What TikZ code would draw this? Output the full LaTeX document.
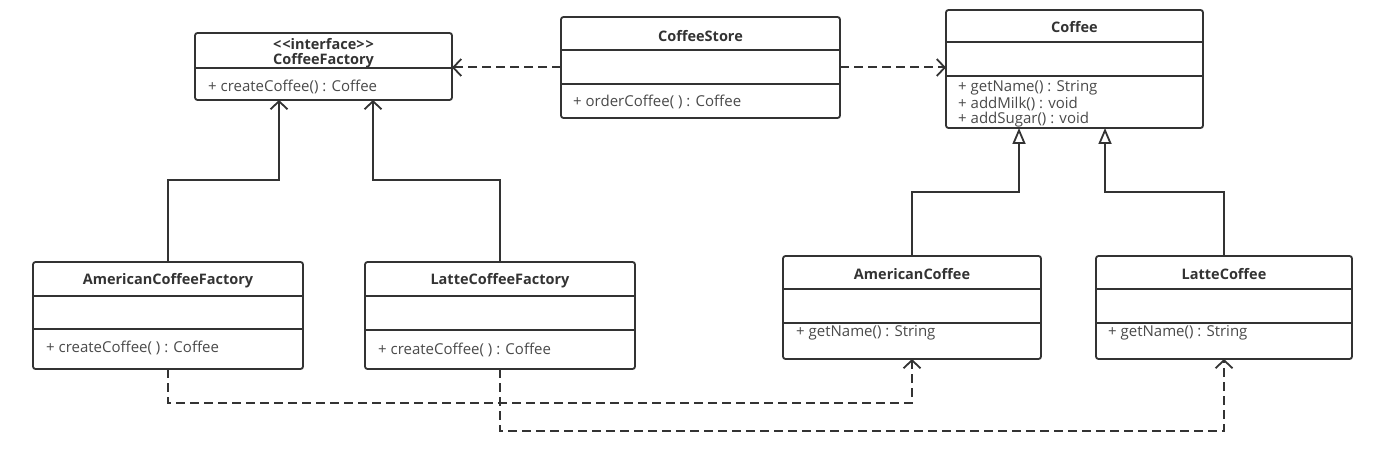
\documentclass[tikz,border=0pt]{standalone}
\usepackage{fontspec}
\setmainfont{Open Sans}
\usetikzlibrary{arrows.meta,calc}
\definecolor{ln}{HTML}{333333}
\definecolor{tx}{HTML}{4A4A4A}
\tikzset{
 cls/.style={draw=ln, line width=1.8pt, rounded corners=2.5pt, inner sep=0pt, outer sep=0pt, fill=white},
 ttl/.style={font=\bfseries\fontsize{14.5}{16}\selectfont, text=ln, inner sep=0pt},
 mth/.style={font=\fontsize{15}{16}\selectfont, text=tx, inner sep=0pt, anchor=west},
 dv/.style={draw=ln, line width=1.8pt},
 gen/.style={draw=ln, line width=1.8pt, -{Triangle[open, length=16pt, width=13pt, line width=1.8pt]}},
 assoc/.style={draw=ln, line width=1.8pt, -{Straight Barb[length=8pt, width=17pt, line width=1.8pt]}},
 dep/.style={assoc, line width=2pt, dash pattern=on 9pt off 5pt},
}
\begin{document}
\begin{tikzpicture}[x=1pt,y=-1pt]
\useasboundingbox (0,0) rectangle (1399,454);
% CoffeeFactory
\node[cls, minimum width=257pt, minimum height=67pt] (cf) at (323.5,66.5) {};
\draw[dv] (cf.west |- 0,68) -- (cf.east |- 0,68);
\node[ttl] (cft1) at (323.5,44) {{<}\kern1pt{<}interface{>}\kern1pt{>}};
\node[ttl] (cft2) at (323.5,61) {CoffeeFactory};
\node[mth] (cfm) at (208,87) {+ createCoffee() : Coffee};
% CoffeeStore
\node[cls, minimum width=279pt, minimum height=101pt] (cs) at (700.5,67.5) {};
\draw[dv] (cs.west |- 0,50) -- (cs.east |- 0,50);
\draw[dv] (cs.west |- 0,84) -- (cs.east |- 0,84);
\node[ttl] (cst) at (700.5,36) {CoffeeStore};
\node[mth] (csm) at (573,102) {+ orderCoffee( ) : Coffee};
% Coffee
\node[cls, minimum width=257pt, minimum height=118pt] (co) at (1074.5,69) {};
\draw[dv] (co.west |- 0,42) -- (co.east |- 0,42);
\draw[dv] (co.west |- 0,76) -- (co.east |- 0,76);
\node[ttl] (cot) at (1074.5,27) {Coffee};
\node[mth] (com1) at (958,88) {+ getName() : String};
\node[mth] (com2) at (958,104) {+ addMilk() : void};
\node[mth] (com3) at (958,120) {+ addSugar() : void};
% AmericanCoffeeFactory
\node[cls, minimum width=270pt, minimum height=107pt] (acf) at (168,315.5) {};
\draw[dv] (acf.west |- 0,296) -- (acf.east |- 0,296);
\draw[dv] (acf.west |- 0,329) -- (acf.east |- 0,329);
\node[ttl] (acft) at (168,281) {AmericanCoffeeFactory};
\node[mth] (acfm) at (46,348) {+ createCoffee( ) : Coffee};
% LatteCoffeeFactory
\node[cls, minimum width=270pt, minimum height=107pt] (lcf) at (500,315.5) {};
\draw[dv] (lcf.west |- 0,296) -- (lcf.east |- 0,296);
\draw[dv] (lcf.west |- 0,330) -- (lcf.east |- 0,330);
\node[ttl] (lcft) at (500,281) {LatteCoffeeFactory};
\node[mth] (lcfm) at (378,350) {+ createCoffee( ) : Coffee};
% AmericanCoffee
\node[cls, minimum width=258pt, minimum height=103pt] (ac) at (912,307.5) {};
\draw[dv] (ac.west |- 0,289) -- (ac.east |- 0,289);
\draw[dv] (ac.west |- 0,323) -- (ac.east |- 0,323);
\node[ttl] (act) at (912,274) {AmericanCoffee};
\node[mth] (acm) at (796,333) {+ getName() : String};
% LatteCoffee
\node[cls, minimum width=256pt, minimum height=103pt] (lc) at (1224,307.5) {};
\draw[dv] (lc.west |- 0,289) -- (lc.east |- 0,289);
\draw[dv] (lc.west |- 0,323) -- (lc.east |- 0,323);
\node[ttl] (lct) at (1224,274) {LatteCoffee};
\node[mth] (lcm) at (1108,333) {+ getName() : String};
% connectors
\draw[dep] (cs.west) -- (cs.west -| cf.east);
\draw[dep] (cs.east) -- (cs.east -| co.west);
\draw[assoc] (acf.north) -- ++(0,-82) -| ($(cf.south west)+(84,0)$);
\draw[assoc] (lcf.north) -- ++(0,-82) -| ($(cf.south west)+(178,0)$);
\draw[gen] (ac.north) -- ++(0,-64) -| ($(co.south west)+(73,0)$);
\draw[gen] (lc.north) -- ++(0,-64) -| ($(co.south west)+(159,0)$);
\draw[dep] (acf.south) -- ++(0,34) -| ($(ac.south west)+(129,0)$);
\draw[dep] (lcf.south) -- ++(0,62) -| ($(lc.south west)+(128,0)$);
\end{tikzpicture}
\end{document}
